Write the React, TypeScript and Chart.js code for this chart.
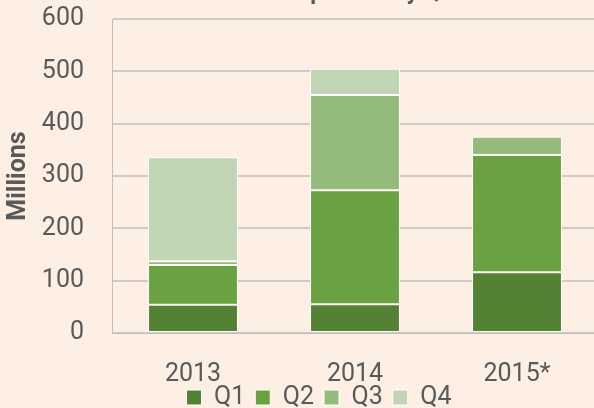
import React, { useEffect, useRef } from "react";
import { Chart, registerables } from "chart.js";

Chart.register(...registerables);

const categories = ["2013", "2014", "2015*"];
const seriesNames = ["Q1", "Q2", "Q3", "Q4"];
const q1Values = [54, 55, 116];
const q2Values = [76, 218, 224];
const q3Values = [7, 182, 35];
const q4Values = [199, 50, 0];
const seriesColors = ["#548235", "#6aa142", "#94bb7b", "#bfd5b4"];
const yTicksMax = 600;
const yTickStep = 100;
const chartTitle = "Global Tablet Shipments by Quarter";
const yAxisTitle = "Millions";

// Lets the x-axis labels draw past the (deliberately short) x-axis box.
const unclipXLabels = {
  id: "unclipXLabels",
  afterLayout(chart: any) {
    const sx = chart.scales.x;
    if (sx) sx.bottom = chart.height;
  },
};

export default function App() {
  const canvasRef = useRef<HTMLCanvasElement | null>(null);

  useEffect(() => {
    const canvas = canvasRef.current;
    if (!canvas) return;
    const values = [q1Values, q2Values, q3Values, q4Values];
    const font = "Roboto";
    const textColor = "#595959";
    const chart = new Chart(canvas, {
      type: "bar",
      data: {
        labels: categories,
        datasets: seriesNames.map((name, i) => ({
          label: name,
          data: values[i],
          backgroundColor: seriesColors[i],
          borderColor: "#ffffff",
          borderWidth: 1,
          borderSkipped: false,
          barPercentage: 0.555,
          categoryPercentage: 1,
          yAxisID: "y",
        })),
      },
      plugins: [unclipXLabels],
      options: {
        responsive: false,
        animation: false,
        devicePixelRatio: 1,
        layout: { padding: 0 },
        plugins: {
          title: {
            display: true,
            text: chartTitle,
            color: textColor,
            font: { family: font, size: 23, weight: "bold", lineHeight: 1.2 },
            padding: { top: 9.5, bottom: 11.9 },
          },
          legend: {
            display: true,
            position: "bottom",
            labels: {
              boxWidth: 15,
              boxHeight: 15,
              padding: 10,
              color: textColor,
              font: { family: font, size: 25 },
            },
          },
          tooltip: { enabled: false },
        },
        scales: {
          x: {
            stacked: true,
            grid: { display: false, drawTicks: false },
            border: { display: true, color: "#bfbfbf", width: 1 },
            ticks: {
              color: textColor,
              padding: 38,
              font: { family: font, size: 25, lineHeight: "8px" },
            },
            afterFit: (scale: any) => {
              scale.height = 42;
            },
          },
          y: {
            stacked: true,
            position: "left",
            min: 0,
            max: yTicksMax,
            grid: { color: "#d0c9c5", lineWidth: 2, drawTicks: false },
            border: { display: true, color: "#bfbfbf", width: 1 },
            ticks: {
              stepSize: yTickStep,
              color: textColor,
              padding: 28,
              font: { family: font, size: 25 },
            },
            title: {
              display: true,
              text: yAxisTitle,
              color: textColor,
              font: { family: font, size: 25, weight: "bold", lineHeight: 1.2 },
              padding: { top: 3.5, bottom: 9.4 },
            },
            afterFit: (scale: any) => {
              scale.width = 112;
            },
          },
          yR: {
            position: "right",
            display: true,
            min: 0,
            max: 1,
            grid: { display: false, drawTicks: false },
            border: { display: false },
            ticks: { display: false },
            afterFit: (scale: any) => {
              scale.width = 40;
            },
          },
        },
      },
    });
    return () => chart.destroy();
  }, []);

  return (
    <div
      style={{
        position: "fixed",
        left: 0,
        top: 0,
        width: 594,
        height: 408,
        overflow: "hidden",
        background: "#fdefe4",
      }}
    >
      <canvas
        ref={canvasRef}
        width={638}
        height={450}
        style={{ position: "absolute", left: 0, top: -30, width: 638, height: 450 }}
      />
    </div>
  );
}
